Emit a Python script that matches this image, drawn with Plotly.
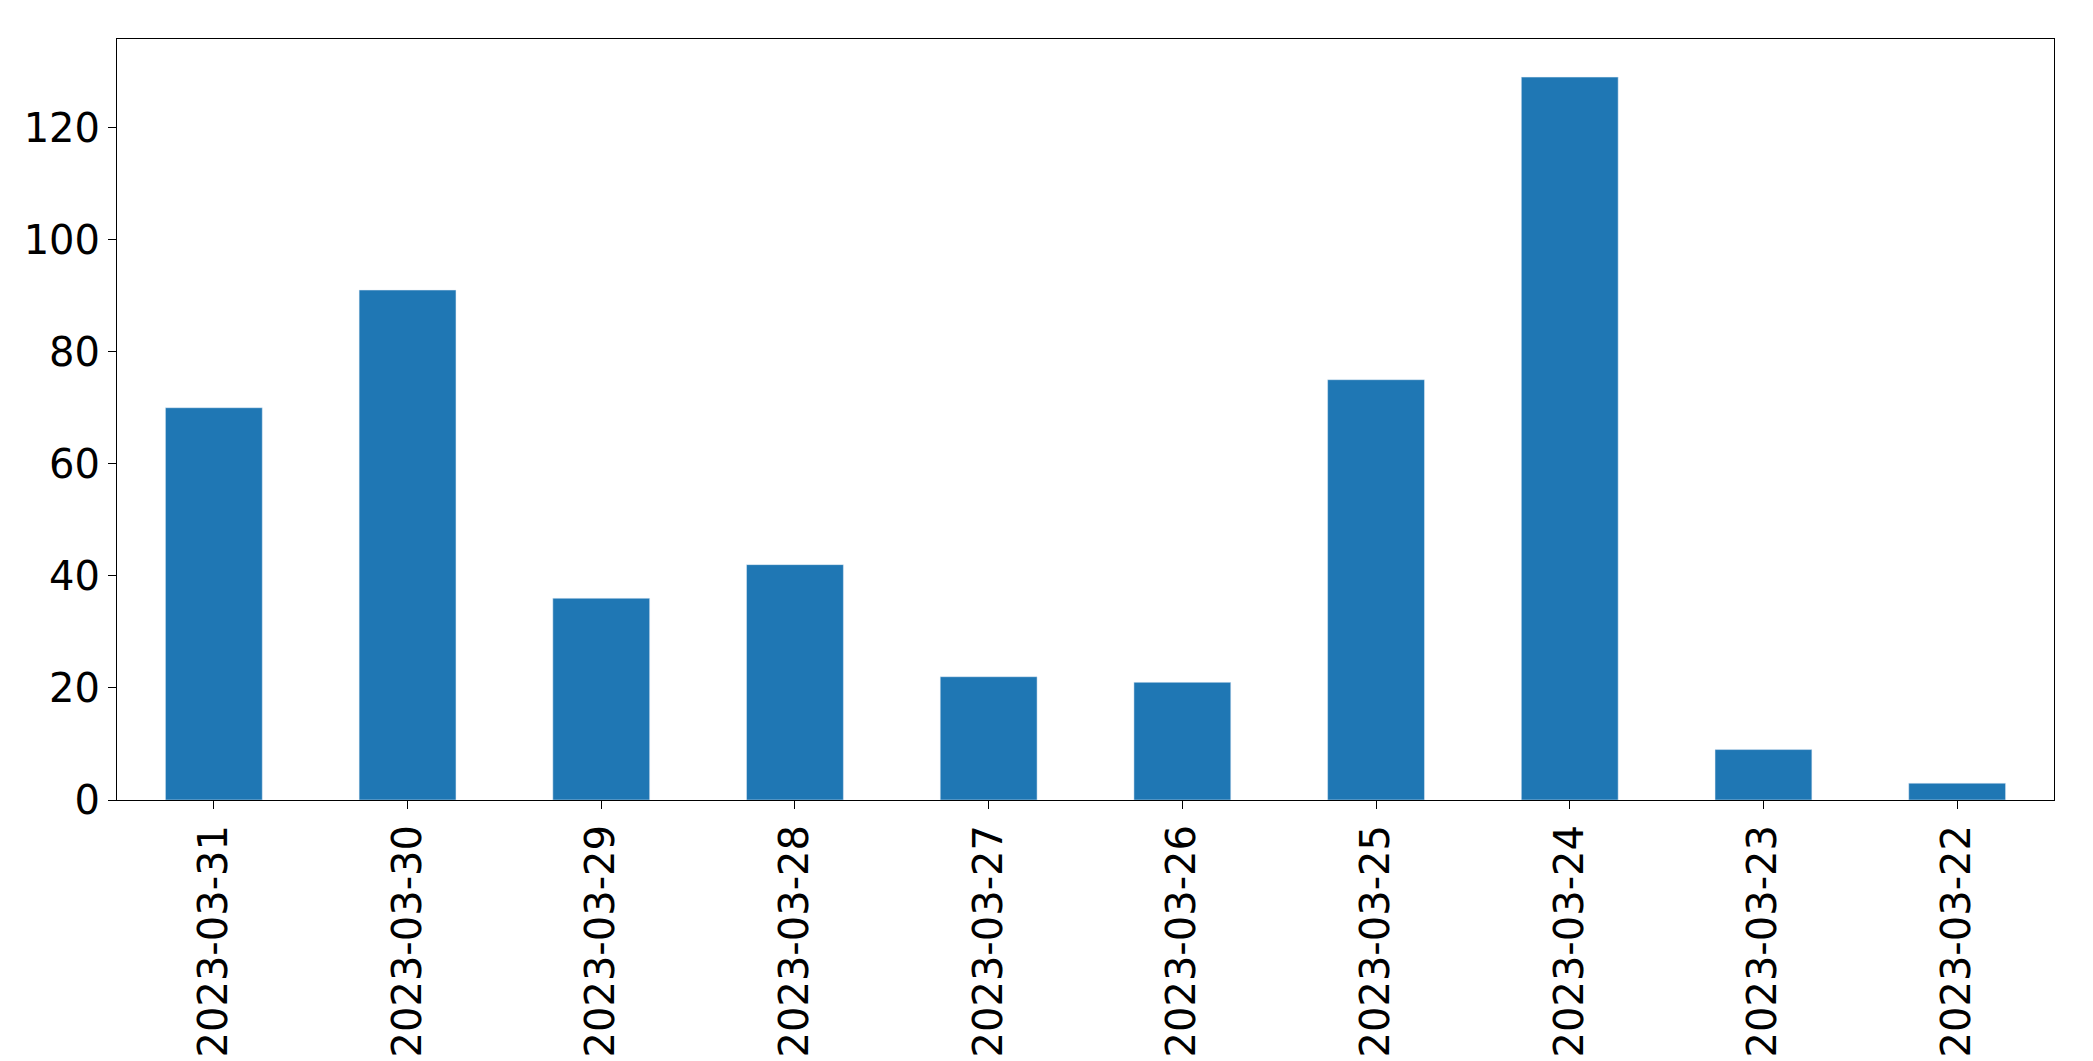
import plotly.graph_objects as go

dates = ["2023-03-31","2023-03-30","2023-03-29","2023-03-28","2023-03-27",
         "2023-03-26","2023-03-25","2023-03-24","2023-03-23","2023-03-22"]
counts = [70, 91, 36, 42, 22, 21, 75, 129, 9, 3]

fig = go.Figure(go.Bar(x=dates, y=counts, marker_color="#1f77b4", width=0.5))
fig.update_layout(
    width=2093, height=1061, plot_bgcolor="white", paper_bgcolor="white",
    margin=dict(l=109, r=47, t=31, b=260), showlegend=False,
    font=dict(family="DejaVu Sans", size=40, color="black"),
)
fig.update_xaxes(type="category", range=[-0.5, 9.5], tickangle=-90,
                 showline=True, linecolor="black", mirror=True, ticks="outside",
                 ticklen=8, tickcolor="black", showgrid=False)
fig.update_yaxes(range=[0, 135.8], tickvals=[0,20,40,60,80,100,120],
                 showline=True, linecolor="black", mirror=True, ticks="outside",
                 ticklen=8, tickcolor="black", showgrid=False, zeroline=False)
fig.write_html("out.html")
